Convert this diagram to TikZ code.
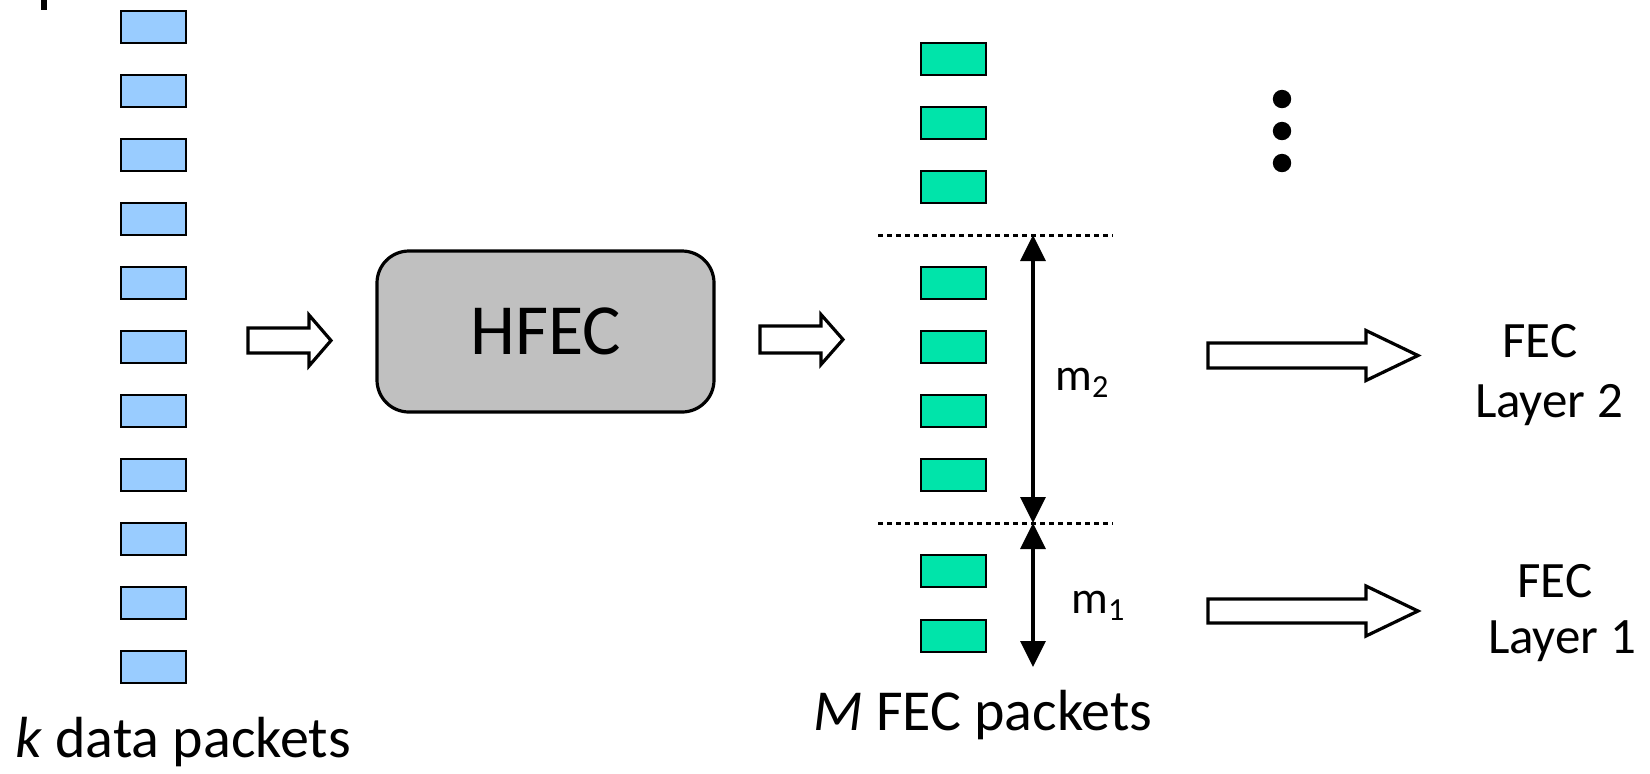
\documentclass[tikz,border=0pt]{standalone}
\usepackage{fontspec}
\setmainfont{Carlito}
\usetikzlibrary{arrows.meta}
\definecolor{pktblue}{RGB}{153,204,255}
\definecolor{pktgreen}{RGB}{0,228,170}
\definecolor{hfecgray}{RGB}{192,192,192}
\begin{document}
\begin{tikzpicture}[x=0.5pt,y=-0.5pt,
  bluepkt/.style={draw=black, line width=1pt, fill=pktblue, minimum width=32.5pt, minimum height=16pt, inner sep=0pt},
  greenpkt/.style={draw=black, line width=1pt, fill=pktgreen, minimum width=32.5pt, minimum height=16pt, inner sep=0pt},
  hollow/.style={draw=black, line width=1.6pt, fill=white, line join=miter},
  dotline/.style={line width=1.5pt, dash pattern=on 2.5pt off 2pt},
  dimline/.style={line width=1.6pt, {Triangle[width=12.5pt,length=13pt]}-{Triangle[width=12.5pt,length=13pt]}},
  bigtxt/.style={font=\fontsize{29}{34}\selectfont, inner sep=0pt},
  sidetxt/.style={font=\fontsize{25.5}{30}\selectfont, inner sep=0pt},
  mtxt/.style={font=\fontsize{23}{28}\selectfont, inner sep=0pt}]
\useasboundingbox (0,0) rectangle (1650,773);
% small mark at the top-left edge
\fill (41,0) rectangle (47,10);
% k data packets
\foreach \i in {0,...,10} {
  \node[bluepkt] (b\i) at (153.5,{27+64*\i}) {};
}
\node[bigtxt, anchor=base west] (klabel) at (15,757) {\textit{k} data packets};
% first hollow arrow
\draw[hollow] (248,328) -- (309,328) -- (309,315) -- (331,340.5) -- (309,366) -- (309,353) -- (248,353) -- cycle;
% HFEC box
\node[draw=black, line width=1.6pt, fill=hfecgray, rounded corners=16pt, minimum width=168.5pt, minimum height=80.5pt, font=\fontsize{36}{42}\selectfont] (hfec) at (545.5,331.5) {HFEC};
% second hollow arrow
\draw[hollow] (760,326) -- (821,326) -- (821,314.5) -- (843,339.5) -- (821,364.5) -- (821,353) -- (760,353) -- cycle;
% FEC packets
\foreach \n/\y in {1/59,2/123,3/187,4/283,5/347,6/410.5,7/474.5,8/571,9/635.5} {
  \node[greenpkt] (g\n) at (953.5,\y) {};
}
\node[bigtxt, anchor=base west] (mlabel) at (813,730) {\textit{M} FEC packets};
% dotted separators
\coordinate (dl1) at (878,235); \coordinate (dr1) at (1113,235);
\coordinate (dl2) at (878,523); \coordinate (dr2) at (1113,523);
\draw[dotline] (dl1) -- (dr1);
\draw[dotline] (dl2) -- (dr2);
% dimension arrows
\coordinate (a2t) at (1033,235);
\coordinate (amid) at (1033,523);
\coordinate (a1b) at (1033,667);
\draw[dimline] (a2t) -- (amid);
\draw[dimline] (amid) -- (a1b);
\node[mtxt, anchor=base west] (m2) at (1055,390) {m\textsubscript{2}};
\node[mtxt, anchor=base west] (m1) at (1071,613) {m\textsubscript{1}};
% dots
\fill (1282,99) circle (4.6pt);
\fill (1282,131) circle (4.6pt);
\fill (1282,163) circle (4.6pt);
% big hollow arrows
\draw[hollow] (1208,343) -- (1366,343) -- (1366,330.5) -- (1418,355.5) -- (1366,380.5) -- (1366,368) -- (1208,368) -- cycle;
\draw[hollow] (1208,599) -- (1366,599) -- (1366,586) -- (1418,611) -- (1366,636) -- (1366,623) -- (1208,623) -- cycle;
% layer labels
\node[sidetxt, anchor=base] (fec2) at (1540,357) {FEC};
\node[sidetxt, anchor=base] (lay2) at (1549,417) {Layer 2};
\node[sidetxt, anchor=base] (fec1) at (1555,597) {FEC};
\node[sidetxt, anchor=base] (lay1) at (1562,653) {Layer 1};
\end{tikzpicture}
\end{document}
